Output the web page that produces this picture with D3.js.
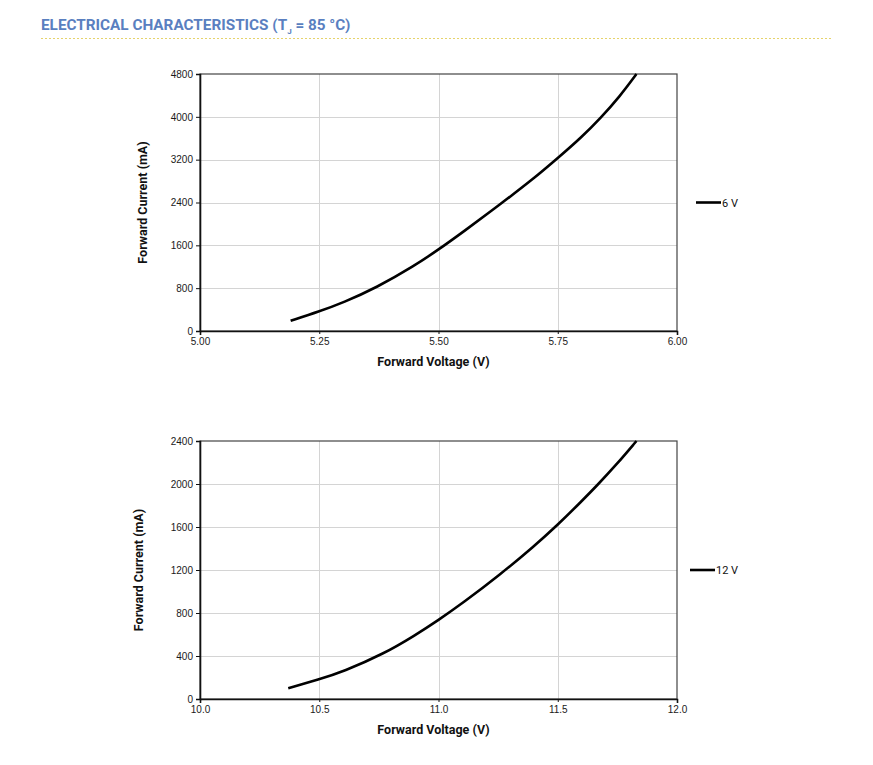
<!DOCTYPE html>
<html>
<head>
<meta charset="utf-8">
<script src="https://cdn.jsdelivr.net/npm/d3@7"></script>
<style>
  body { margin: 0; background: #fff; }
  svg { display: block; font-family: Roboto, "Liberation Sans", sans-serif; }
</style>
</head>
<body>
<svg id="chart" width="873" height="765"></svg>
<script>
// 6 V part
const volt6 = [5.19, 5.25, 5.30, 5.37, 5.45, 5.50, 5.55, 5.63, 5.70, 5.75, 5.80, 5.84, 5.88, 5.915];
const curr6 = [190, 365, 530, 810, 1220, 1520, 1840, 2370, 2850, 3230, 3620, 3980, 4380, 4800];
const xTicks6 = [5.00, 5.25, 5.50, 5.75, 6.00];
const yTicks6 = [0, 800, 1600, 2400, 3200, 4000, 4800];

// 12 V part
const volt12 = [10.37, 10.50, 10.60, 10.77, 10.90, 11.00, 11.10, 11.26, 11.40, 11.50, 11.60, 11.66, 11.75, 11.83];
const curr12 = [100, 183, 254, 420, 590, 735, 890, 1160, 1420, 1620, 1840, 1975, 2190, 2400];
const xTicks12 = [10.0, 10.5, 11.0, 11.5, 12.0];
const yTicks12 = [0, 400, 800, 1200, 1600, 2000, 2400];

const svg = d3.select("#chart");

// header
const title = svg.append("text")
    .attr("x", 41)
    .attr("y", 30)
    .attr("fill", "#5a7fc0")
    .style("font-size", "15.3px")
    .style("font-weight", "bold");
title.append("tspan").text("ELECTRICAL CHARACTERISTICS (T");
title.append("tspan").text("J").style("font-size", "8px").attr("dy", 4);
title.append("tspan").text(" = 85 °C)").attr("dy", -4);

svg.append("line")
    .attr("x1", 41).attr("x2", 833)
    .attr("y1", 38.5).attr("y2", 38.5)
    .attr("stroke", "#e6d36a")
    .attr("stroke-width", 1)
    .attr("stroke-dasharray", "2,2");

function drawPanel(opts) {
    const { top, bottom, xs, ys, xTicks, yTicks, xFmt, legend, legendX, yTitleX } = opts;
    const left = 200, right = 677;

    const x = d3.scaleLinear().domain([xTicks[0], xTicks[xTicks.length - 1]]).range([left, right]);
    const y = d3.scaleLinear().domain([0, yTicks[yTicks.length - 1]]).range([bottom, top]);

    const g = svg.append("g");

    // grid
    g.selectAll(".hgrid")
        .data(yTicks.slice(1, -1))
        .enter().append("line")
        .attr("x1", left).attr("x2", right)
        .attr("y1", d => Math.round(y(d)) + 0.5).attr("y2", d => Math.round(y(d)) + 0.5)
        .attr("stroke", "#d4d4d4");
    g.selectAll(".vgrid")
        .data(xTicks.slice(1, -1))
        .enter().append("line")
        .attr("y1", top).attr("y2", bottom)
        .attr("x1", d => Math.round(x(d)) + 0.5).attr("x2", d => Math.round(x(d)) + 0.5)
        .attr("stroke", "#d4d4d4");

    // frame
    g.append("rect")
        .attr("x", left).attr("y", top)
        .attr("width", right - left).attr("height", bottom - top)
        .attr("fill", "none")
        .attr("stroke", "#444")
        .attr("stroke-width", 1.2);

    // axes
    const yAxis = d3.axisLeft(y).tickValues(yTicks).tickSize(4).tickPadding(3).tickFormat(d3.format("d"));
    const xAxis = d3.axisBottom(x).tickValues(xTicks).tickSize(4).tickPadding(3).tickFormat(xFmt);

    const ya = g.append("g").attr("transform", `translate(${left},0)`).call(yAxis);
    const xa = g.append("g").attr("transform", `translate(0,${bottom})`).call(xAxis);
    [ya, xa].forEach(a => {
        a.select(".domain").attr("stroke", "#111").attr("stroke-width", 1.6);
        a.selectAll(".tick line").attr("stroke", "#111");
        a.selectAll("text").attr("fill", "#1a1a1a").style("font-size", "10px");
    });
    xa.selectAll(".tick line").attr("y2", 3);

    // curve
    const pts = xs.map((v, i) => [v, ys[i]]);
    g.append("path")
        .datum(pts)
        .attr("fill", "none")
        .attr("stroke", "#000")
        .attr("stroke-width", 2.6)
        .attr("d", d3.line().x(d => x(d[0])).y(d => y(d[1])).curve(d3.curveBasis));

    // axis titles
    g.append("text")
        .attr("x", (left + right) / 2 - 5)
        .attr("y", bottom + 35)
        .attr("text-anchor", "middle")
        .style("font-size", "12.5px")
        .style("font-weight", "bold")
        .attr("fill", "#111")
        .text("Forward Voltage (V)");
    g.append("text")
        .attr("transform", `translate(${yTitleX},${(top + bottom) / 2}) rotate(-90)`)
        .attr("text-anchor", "middle")
        .style("font-size", "12.5px")
        .style("font-weight", "bold")
        .attr("fill", "#111")
        .text("Forward Current (mA)");

    // legend
    const ly = (top + bottom) / 2;
    g.append("line")
        .attr("x1", legendX).attr("x2", legendX + 25)
        .attr("y1", ly).attr("y2", ly)
        .attr("stroke", "#000")
        .attr("stroke-width", 2.6);
    g.append("text")
        .attr("x", legendX + 26)
        .attr("y", ly + 4)
        .style("font-size", "11px")
        .attr("fill", "#111")
        .text(legend);
}

drawPanel({
    top: 74, bottom: 331,
    xs: volt6, ys: curr6,
    xTicks: xTicks6, yTicks: yTicks6,
    xFmt: d3.format(".2f"),
    legend: "6 V", legendX: 696, yTitleX: 147
});

drawPanel({
    top: 441, bottom: 699,
    xs: volt12, ys: curr12,
    xTicks: xTicks12, yTicks: yTicks12,
    xFmt: d3.format(".1f"),
    legend: "12 V", legendX: 690, yTitleX: 143
});
</script>
</body>
</html>
